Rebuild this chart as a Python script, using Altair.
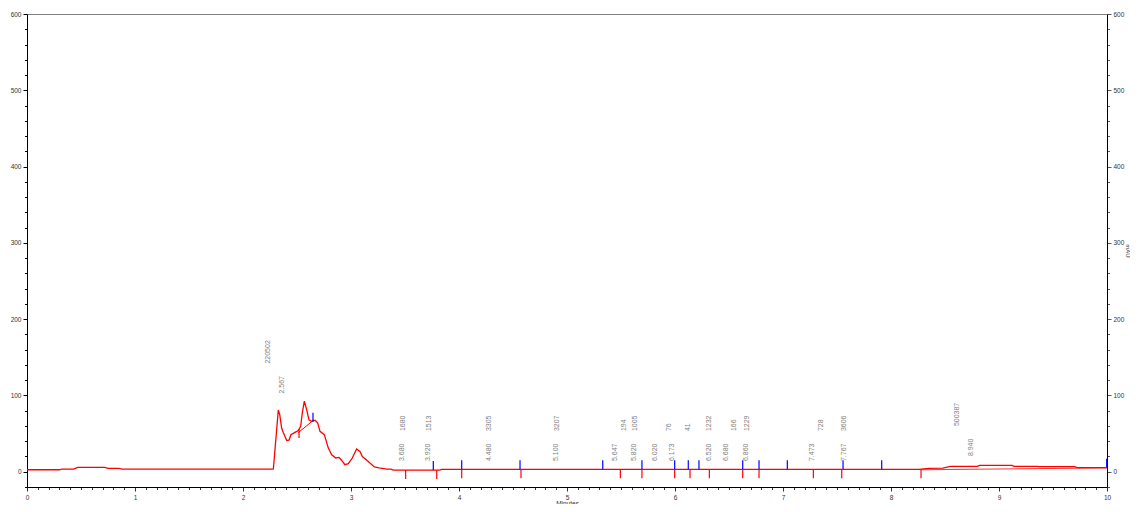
import altair as alt
import pandas as pd

# ---- chromatogram trace (minutes, mAU) ----
trace_t = [0.00, 0.30, 0.32, 0.43, 0.47, 0.72, 0.75, 0.85, 0.88, 2.27, 2.281, 2.327, 2.34,
           2.358, 2.374, 2.405, 2.426, 2.444, 2.481, 2.512, 2.534, 2.549, 2.568, 2.59, 2.611,
           2.636, 2.667, 2.691, 2.713, 2.753, 2.79, 2.821, 2.858, 2.889, 2.914, 2.944, 2.975,
           3.012, 3.052, 3.083, 3.105, 3.16, 3.216, 3.26, 3.33, 3.37, 3.39, 3.82, 3.84, 8.26,
           8.35, 8.48, 8.55, 8.80, 8.82, 9.12, 9.14, 9.35, 9.37, 9.70, 9.72, 10.0]
trace_v = [2.6, 2.6, 3.5, 3.5, 5.7, 5.7, 4.3, 4.3, 3.3, 3.5, 3.6, 81, 75,
           57, 51, 41, 41.5, 48.5, 51.6, 54, 59.5, 77, 92.5, 81, 68,
           66, 67.5, 64, 53, 48.6, 31, 22.3, 18, 18.8, 14.8, 9.2, 10.5,
           18, 29.8, 26.6, 20, 13.5, 6.2, 5, 3.5, 3.4, 2.2, 2.2, 3.2, 3.2,
           4.3, 4.8, 7, 7, 8.3, 8.3, 7, 7, 6.6, 6.6, 5.3, 5.3]

# ---- integration baselines ----
skim_t = [2.51, 2.655]
skim_v = [51, 68]
base_t = [8.28, 10.0]
base_v = [2.6, 5.0]

# ---- peak start (red) / end (blue) markers ----
start_t = [2.519, 3.506, 3.794, 4.025, 4.574, 5.494, 5.694, 5.997, 6.139, 6.318,
           6.627, 6.778, 7.281, 7.544, 8.278]
start_v = [56, 2.2, 2.2, 3.2, 3.2, 3.2, 3.2, 3.2, 3.2, 3.2, 3.2, 3.2, 3.2, 3.2, 3.2]
end_t = [2.648, 3.762, 4.025, 4.565, 5.331, 5.694, 5.997, 6.123, 6.222, 6.627,
         6.778, 7.04, 7.556, 7.914, 9.997]
end_v = [65.6, 2.2, 3.2, 3.2, 3.2, 3.2, 3.2, 3.2, 3.2, 3.2, 3.2, 3.2, 3.2, 3.2, 5.3]

# ---- peak annotations ----
rt_vals = [2.567, 3.680, 3.920, 4.480, 5.100, 5.647, 5.820, 6.020, 6.173, 6.520,
           6.680, 6.860, 7.473, 7.767, 8.940]
rt_text = ["2.567", "3.680", "3.920", "4.480", "5.100", "5.647", "5.820", "6.020", "6.173",
           "6.520", "6.680", "6.860", "7.473", "7.767", "8.940"]
peak_level = [92, 3.5, 3.5, 3.5, 3.5, 3.5, 3.5, 3.5, 3.5, 3.5, 3.5, 3.5, 3.5, 3.5, 10]
area_text = ["220502", "1680", "1513", "3305", "3207", "194", "1005", "76", "41", "1232",
             "166", "1229", "728", "3606", "500387"]
area_pos = [2.231, 3.484, 3.725, 4.278, 4.904, 5.528, 5.63, 5.947, 6.118, 6.318,
            6.549, 6.664, 7.352, 7.565, 8.614]

trace = pd.DataFrame({"t": trace_t, "v": trace_v})
skim = pd.DataFrame({"t": skim_t, "v": skim_v})
base = pd.DataFrame({"t": base_t, "v": base_v})
starts = pd.DataFrame({"t": start_t, "v": start_v})
ends = pd.DataFrame({"t": end_t, "v": end_v})
rt_df = pd.DataFrame({"t": rt_vals, "v": peak_level, "txt": rt_text})
area_df = pd.DataFrame({"t": area_pos, "v": peak_level, "txt": area_text})

FONT = "Liberation Sans"
xvals = [round(i * 0.1, 1) for i in range(0, 101)]
yvals = list(range(-20, 601, 20))

xscale = alt.Scale(domain=[0, 10], nice=False, zero=False)
yscale = alt.Scale(domain=[-20, 600], nice=False, zero=False)

xaxis = alt.Axis(
    values=xvals,
    labelExpr="abs(datum.value - round(datum.value)) < 0.001 ? format(datum.value, 'd') : ''",
    tickSize={"condition": {"test": "abs(datum.value - round(datum.value)) < 0.001", "value": 4},
              "value": 2.5},
    labelFontSize=6.5, labelColor="#333333", labelFont=FONT, labelPadding=3,
    labelOverlap=False, labelFlush=False,
    domainColor="black", tickColor="#333333", grid=False,
    title="Minutes", titleFont=FONT, titleFontSize=6.5, titleFontWeight="normal",
    titleColor="#333333", titlePadding=0,
)
yaxis_left = alt.Axis(
    values=yvals,
    labelExpr="datum.value % 100 === 0 ? datum.label : ''",
    tickSize={"condition": {"test": "datum.value % 100 === 0", "value": 4}, "value": 2.5},
    labelFontSize=6.5, labelColor="#333333", labelFont=FONT, labelPadding=2,
    labelOverlap=False, labelFlush=False,
    domainColor="black", tickColor="black", grid=False, title=None,
)
yaxis_right = alt.Axis(
    orient="right",
    values=yvals,
    labelExpr="datum.value % 100 === 0 ? datum.label : ''",
    tickSize={"condition": {"test": "datum.value % 100 === 0", "value": 4}, "value": 2.5},
    labelFontSize=6.5, labelColor="#333333", labelFont=FONT, labelPadding=2,
    labelOverlap=False, labelFlush=False,
    domainColor="black", tickColor="#555555", grid=False,
    title="mAU", titleFont=FONT, titleFontSize=6, titleFontWeight="normal",
    titleColor="#333333", titlePadding=1,
)

X = alt.X("t:Q", scale=xscale, axis=xaxis)
Y = alt.Y("v:Q", scale=yscale, axis=yaxis_left)

line = alt.Chart(trace).mark_line(color="#ff0000", strokeWidth=1.3, interpolate="linear").encode(
    x=X, y=Y, order="t:Q")
skim_line = alt.Chart(skim).mark_line(color="#ff0000", strokeWidth=1).encode(x=X, y=Y)
start_ticks = alt.Chart(starts).mark_tick(
    color="#ff0000", orient="vertical", size=9, thickness=1.2, yOffset=4.5, opacity=1
).encode(x=X, y=Y)
end_ticks = alt.Chart(ends).mark_tick(
    color="#0000ff", orient="vertical", size=9, thickness=1.2, yOffset=-4.5, opacity=1
).encode(x=X, y=Y)
rt_labels = alt.Chart(rt_df).mark_text(
    angle=270, align="left", baseline="middle", font=FONT, fontSize=7, color="#808080",
    xOffset=-22, yOffset=-8
).encode(x=X, y=Y, text="txt:N")
area_labels = alt.Chart(area_df).mark_text(
    angle=270, align="left", baseline="middle", font=FONT, fontSize=7, color="#808080",
    yOffset=-38
).encode(x=X, y=Y, text="txt:N")

left = alt.layer(line, skim_line, start_ticks, end_ticks, rt_labels, area_labels)

right = alt.Chart(base).mark_line(color="#ff0000", strokeWidth=0.8).encode(
    x=X, y=alt.Y("v:Q", scale=yscale, axis=yaxis_right))

chart = alt.layer(left, right).resolve_scale(y="independent").properties(
    width=1080, height=473,
    autosize=alt.AutoSizeParams(type="none"),
    padding={"left": 19, "top": 6, "right": 23, "bottom": 17},
    background="white",
).configure_view(stroke="#808080", strokeWidth=1)

chart.save("out.html", embed_options={"renderer": "svg", "actions": False})
